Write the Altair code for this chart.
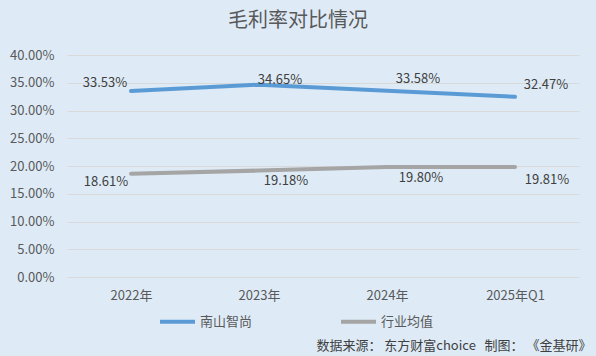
import altair as alt
import pandas as pd

categories = ["2022年", "2023年", "2024年", "2025年Q1"]
series_names = ["南山智尚", "行业均值"]
nanshan = [0.3353, 0.3465, 0.3358, 0.3247]
industry = [0.1861, 0.1918, 0.1980, 0.1981]
y_ticks = [0, 0.05, 0.10, 0.15, 0.20, 0.25, 0.30, 0.35, 0.40]

rows = []
for i, c in enumerate(categories):
    rows.append({"cat": c, "series": series_names[0], "value": nanshan[i], "idx": i})
    rows.append({"cat": c, "series": series_names[1], "value": industry[i], "idx": i})
df = pd.DataFrame(rows)

FONT = "Noto Sans CJK SC"
GREY_TXT = "#595959"
BG = "#DEEBF7"

source_text = "数据来源：\u00a0东方财富choice\u00a0\u00a0\u00a0制图：\u00a0《金基研》"

x_enc = alt.X("cat:N", sort=categories,
              scale=alt.Scale(type="point", padding=0.5),
              axis=alt.Axis(title=source_text,
                            titleFont=FONT, titleFontSize=13, titleFontWeight="normal",
                            titleColor="#404040", titleAnchor="end", titleAlign="right",
                            titleX=524, titleY=68, titleBaseline="middle",
                            labelAngle=0, labelFont=FONT, labelFontSize=13,
                            labelColor=GREY_TXT, labelPadding=12,
                            domain=False, ticks=False, grid=False))
y_enc = alt.Y("value:Q",
              scale=alt.Scale(domain=[0, 0.4], nice=False),
              axis=alt.Axis(title=None, values=y_ticks, format=".2%",
                            labelOverlap=False,
                            labelFont=FONT, labelFontSize=13, labelColor=GREY_TXT,
                            labelPadding=13, domain=False, ticks=False,
                            gridColor="#D9D9D9", gridWidth=1))
color_enc = alt.Color("series:N", sort=series_names,
                      scale=alt.Scale(domain=series_names, range=["#5B9BD5", "#A5A5A5"]),
                      legend=alt.Legend(title=None, orient="none", direction="horizontal",
                                        legendX=91, legendY=247,
                                        symbolType="stroke", symbolStrokeWidth=4,
                                        symbolSize=1225, labelFont=FONT, labelFontSize=13,
                                        labelColor=GREY_TXT, labelOffset=3,
                                        columnPadding=80))

base = alt.Chart(df)
lines = base.mark_line(strokeWidth=4, strokeCap="round").encode(
    x=x_enc, y=y_enc, color=color_enc)

# label offsets per (series, index)
offsets = {
    (series_names[0], 0): (-26, -8),
    (series_names[0], 1): (21, -5),
    (series_names[0], 2): (31, -12),
    (series_names[0], 3): (31, -12),
    (series_names[1], 0): (-25, 8),
    (series_names[1], 1): (27, 10),
    (series_names[1], 2): (34, 11),
    (series_names[1], 3): (32, 13),
}
label_layers = []
for (s, i), (dx, dy) in offsets.items():
    label_layers.append(
        base.transform_filter((alt.datum.series == s) & (alt.datum.idx == i))
        .mark_text(font=FONT, fontSize=13, color="#404040", dx=dx, dy=dy,
                   align="center", baseline="middle")
        .encode(x=x_enc, y=y_enc,
                text=alt.Text("value:Q", format=".2%"))
    )

chart = alt.layer(lines, *label_layers).properties(
    width=512, height=222,
    padding={"left": 67, "top": 55, "right": 17, "bottom": 79},
    autosize=alt.AutoSizeParams(type="none"),
    background=BG,
    title=alt.TitleParams("毛利率对比情况", font=FONT, fontSize=20, fontWeight="normal",
                          color=GREY_TXT, anchor="middle", dx=-25, offset=18),
).configure_view(stroke=None)

chart.save("out.html", embed_options={"renderer": "svg", "actions": False})
